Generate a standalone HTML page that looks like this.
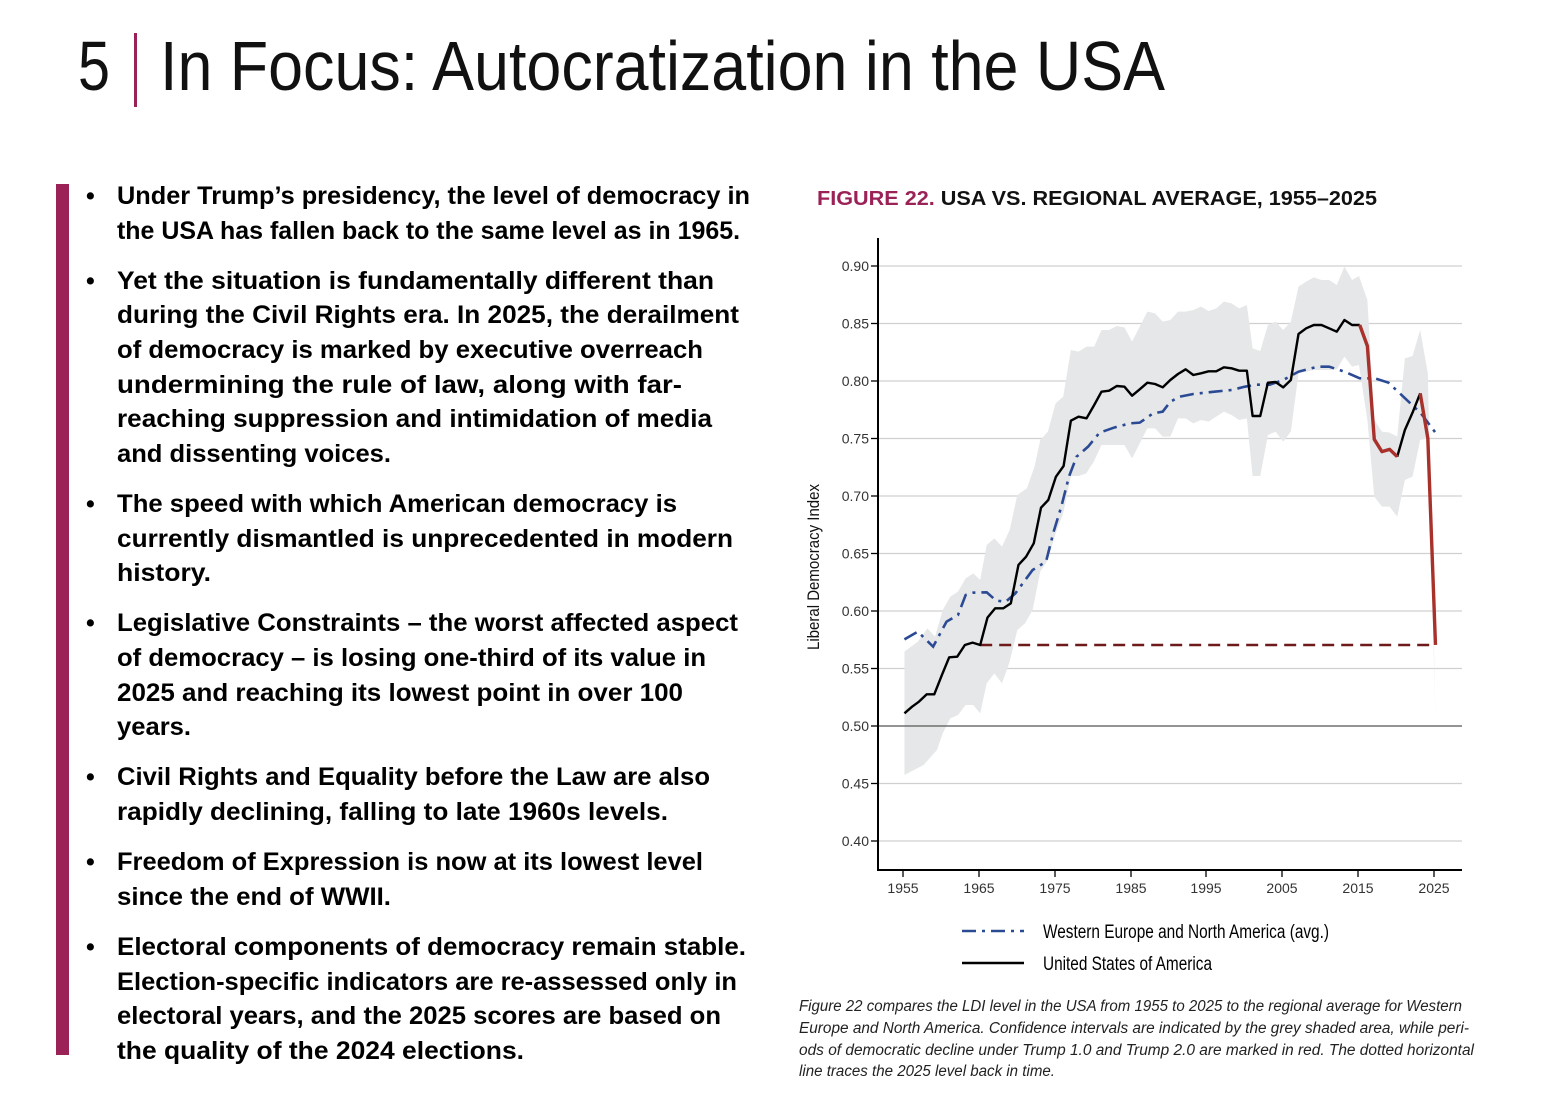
<!DOCTYPE html>
<html><head><meta charset="utf-8"><style>
html,body{margin:0;padding:0;background:#fff;}
svg{display:block}
</style></head><body>
<svg width="1566" height="1098" viewBox="0 0 1566 1098" xmlns="http://www.w3.org/2000/svg">
<text x="78" y="90" font-family="Liberation Sans, sans-serif" font-size="70" fill="#111" textLength="32" lengthAdjust="spacingAndGlyphs">5</text>
<rect x="134" y="33" width="3" height="74" fill="#9b2257"/>
<text x="160" y="90" font-family="Liberation Sans, sans-serif" font-size="70" fill="#111" textLength="1005" lengthAdjust="spacingAndGlyphs">In Focus: Autocratization in the USA</text>

<rect x="56" y="184" width="13" height="871" fill="#9b2257"/>

<g font-family="Liberation Sans, sans-serif" font-size="25" font-weight="bold" fill="#000">
<text x="86" y="204">•</text>
<text x="117" y="204" textLength="633" lengthAdjust="spacingAndGlyphs">Under Trump’s presidency, the level of democracy in</text>
<text x="117" y="239" textLength="623" lengthAdjust="spacingAndGlyphs">the USA has fallen back to the same level as in 1965.</text>
<text x="86" y="289">•</text>
<text x="117" y="289" textLength="597" lengthAdjust="spacingAndGlyphs">Yet the situation is fundamentally different than</text>
<text x="117" y="323" textLength="622" lengthAdjust="spacingAndGlyphs">during the Civil Rights era. In 2025, the derailment</text>
<text x="117" y="358" textLength="586" lengthAdjust="spacingAndGlyphs">of democracy is marked by executive overreach</text>
<text x="117" y="393" textLength="565" lengthAdjust="spacingAndGlyphs">undermining the rule of law, along with far-</text>
<text x="117" y="427" textLength="595" lengthAdjust="spacingAndGlyphs">reaching suppression and intimidation of media</text>
<text x="117" y="462" textLength="274" lengthAdjust="spacingAndGlyphs">and dissenting voices.</text>
<text x="86" y="512">•</text>
<text x="117" y="512" textLength="560" lengthAdjust="spacingAndGlyphs">The speed with which American democracy is</text>
<text x="117" y="547" textLength="616" lengthAdjust="spacingAndGlyphs">currently dismantled is unprecedented in modern</text>
<text x="117" y="581" textLength="94" lengthAdjust="spacingAndGlyphs">history.</text>
<text x="86" y="631">•</text>
<text x="117" y="631" textLength="621" lengthAdjust="spacingAndGlyphs">Legislative Constraints – the worst affected aspect</text>
<text x="117" y="666" textLength="589" lengthAdjust="spacingAndGlyphs">of democracy – is losing one-third of its value in</text>
<text x="117" y="701" textLength="566" lengthAdjust="spacingAndGlyphs">2025 and reaching its lowest point in over 100</text>
<text x="117" y="735" textLength="74" lengthAdjust="spacingAndGlyphs">years.</text>
<text x="86" y="785">•</text>
<text x="117" y="785" textLength="593" lengthAdjust="spacingAndGlyphs">Civil Rights and Equality before the Law are also</text>
<text x="117" y="820" textLength="551" lengthAdjust="spacingAndGlyphs">rapidly declining, falling to late 1960s levels.</text>
<text x="86" y="870">•</text>
<text x="117" y="870" textLength="586" lengthAdjust="spacingAndGlyphs">Freedom of Expression is now at its lowest level</text>
<text x="117" y="905" textLength="274" lengthAdjust="spacingAndGlyphs">since the end of WWII.</text>
<text x="86" y="955">•</text>
<text x="117" y="955" textLength="629" lengthAdjust="spacingAndGlyphs">Electoral components of democracy remain stable.</text>
<text x="117" y="990" textLength="620" lengthAdjust="spacingAndGlyphs">Election-specific indicators are re-assessed only in</text>
<text x="117" y="1024" textLength="604" lengthAdjust="spacingAndGlyphs">electoral years, and the 2025 scores are based on</text>
<text x="117" y="1059" textLength="407" lengthAdjust="spacingAndGlyphs">the quality of the 2024 elections.</text>
</g>

<text x="817" y="205" font-family="Liberation Sans, sans-serif" font-size="20" font-weight="bold" textLength="560" lengthAdjust="spacingAndGlyphs"><tspan fill="#9b2257">FIGURE 22.</tspan><tspan fill="#111"> USA VS. REGIONAL AVERAGE, 1955–2025</tspan></text>

<g stroke="#d0d0d0" stroke-width="1.3">
<line x1="878" y1="266" x2="1462" y2="266"/>
<line x1="878" y1="323.5" x2="1462" y2="323.5"/>
<line x1="878" y1="381" x2="1462" y2="381"/>
<line x1="878" y1="438.5" x2="1462" y2="438.5"/>
<line x1="878" y1="496" x2="1462" y2="496"/>
<line x1="878" y1="553.5" x2="1462" y2="553.5"/>
<line x1="878" y1="611" x2="1462" y2="611"/>
<line x1="878" y1="668.5" x2="1462" y2="668.5"/>
<line x1="878" y1="783.5" x2="1462" y2="783.5"/>
<line x1="878" y1="841" x2="1462" y2="841"/>
</g>

<g transform="translate(870,250) scale(0.3826,0.33333)">
<polygon fill="#e6e7e8" points="90,1205 125,1175 150,1135 170,1160 190,1080 210,1040 230,1025 250,985 270,970 288,990 305,885 325,865 345,890 365,840 385,735 410,715 430,650 445,570 465,545 485,460 505,440 525,300 545,305 566,290 586,290 605,240 625,240 645,228 665,232 685,275 705,230 725,185 745,190 765,215 785,210 805,185 825,185 845,180 865,170 885,183 905,175 925,155 945,160 965,175 985,165 1000,295 1020,303 1040,225 1060,215 1080,240 1100,215 1120,110 1140,95 1160,82 1180,90 1200,90 1220,105 1240,50 1260,90 1278,78 1300,150 1318,510 1338,545 1358,548 1378,560 1398,325 1418,318 1438,240 1458,370 1478,1400 1458,565 1438,570 1418,680 1398,690 1378,800 1358,770 1338,770 1318,740 1300,510 1278,345 1260,350 1240,320 1220,358 1200,360 1180,360 1160,360 1140,365 1120,370 1100,545 1080,575 1060,545 1040,555 1020,678 1000,678 985,505 965,510 945,495 925,485 905,500 885,515 865,510 845,520 825,505 805,505 785,560 765,560 745,535 725,535 705,580 685,625 665,585 645,585 625,585 605,585 585,635 565,670 545,678 525,678 505,790 485,850 465,930 445,965 425,1080 405,1120 385,1140 365,1235 345,1300 325,1270 305,1300 288,1390 270,1365 250,1365 230,1395 210,1405 190,1450 175,1500 140,1545 90,1575"/>
</g>

<line x1="878" y1="726" x2="1462" y2="726" stroke="#555" stroke-width="1.3"/>

<g transform="translate(870,250) scale(0.3826,0.33333)" fill="none">
<polyline vector-effect="non-scaling-stroke" stroke="#2b4a94" stroke-width="2.6" stroke-dasharray="14,6,3,6" points="90,1168 125,1145 165,1190 200,1115 230,1095 250,1035 270,1028 305,1027 330,1052 355,1055 380,1030 425,960 460,935 480,845 500,770 520,680 540,620 570,590 600,548 640,532 680,520 705,518 740,490 765,485 785,455 810,440 845,432 900,425 945,420 980,410 1010,404 1045,404 1080,390 1120,365 1170,350 1200,350 1240,365 1280,385 1320,385 1355,398 1380,425 1440,490 1478,548"/>
<polyline vector-effect="non-scaling-stroke" stroke="#6e1a1a" stroke-width="2.6" stroke-dasharray="12,7" points="288,1185 1478,1185"/>
<polyline vector-effect="non-scaling-stroke" stroke="#000" stroke-width="2.4" stroke-linejoin="round" points="90,1390 110,1370 128,1355 148,1333 168,1333 188,1275 207,1222 228,1220 248,1185 268,1178 288,1185 307,1103 327,1075 348,1075 368,1060 388,945 408,920 428,880 447,773 466,750 486,680 506,648 525,512 545,500 566,505 586,465 605,425 625,422 645,408 665,410 685,437 705,418 725,398 745,402 765,412 785,390 805,372 825,358 845,375 865,370 885,364 905,364 925,352 945,355 965,362 985,362 1000,498 1020,498 1040,398 1060,396 1080,412 1100,390 1120,252 1140,235 1160,225 1180,225 1200,235 1220,245 1240,210 1260,225 1280,225"/>
<polyline vector-effect="non-scaling-stroke" stroke="#000" stroke-width="2.4" stroke-linejoin="round" points="1378,620 1398,540 1418,488 1438,430"/>
<polyline vector-effect="non-scaling-stroke" stroke="#a8312b" stroke-width="3.4" stroke-linejoin="round" points="1280,225 1300,288 1318,568 1338,605 1358,598 1378,620"/>
<polyline vector-effect="non-scaling-stroke" stroke="#a8312b" stroke-width="3.4" stroke-linejoin="round" points="1438,430 1458,565 1478,1185"/>
</g>

<line x1="878" y1="238" x2="878" y2="871" stroke="#000" stroke-width="2"/>
<line x1="877" y1="870" x2="1462" y2="870" stroke="#000" stroke-width="2"/>
<g stroke="#000" stroke-width="1.3">
<line x1="871" y1="266" x2="878" y2="266"/><line x1="871" y1="323.5" x2="878" y2="323.5"/>
<line x1="871" y1="381" x2="878" y2="381"/><line x1="871" y1="438.5" x2="878" y2="438.5"/>
<line x1="871" y1="496" x2="878" y2="496"/><line x1="871" y1="553.5" x2="878" y2="553.5"/>
<line x1="871" y1="611" x2="878" y2="611"/><line x1="871" y1="668.5" x2="878" y2="668.5"/>
<line x1="871" y1="726" x2="878" y2="726"/><line x1="871" y1="783.5" x2="878" y2="783.5"/>
<line x1="871" y1="841" x2="878" y2="841"/>
<line x1="903" y1="870" x2="903" y2="877"/><line x1="979" y1="870" x2="979" y2="877"/>
<line x1="1055" y1="870" x2="1055" y2="877"/><line x1="1131" y1="870" x2="1131" y2="877"/>
<line x1="1206" y1="870" x2="1206" y2="877"/><line x1="1282" y1="870" x2="1282" y2="877"/>
<line x1="1358" y1="870" x2="1358" y2="877"/><line x1="1434" y1="870" x2="1434" y2="877"/>
</g>
<g font-family="Liberation Sans Narrow, Liberation Sans, sans-serif" font-size="14" fill="#333" text-anchor="end">
<text x="869" y="271">0.90</text><text x="869" y="328.5">0.85</text><text x="869" y="386">0.80</text>
<text x="869" y="443.5">0.75</text><text x="869" y="501">0.70</text><text x="869" y="558.5">0.65</text>
<text x="869" y="616">0.60</text><text x="869" y="673.5">0.55</text><text x="869" y="731">0.50</text>
<text x="869" y="788.5">0.45</text><text x="869" y="846">0.40</text>
</g>
<g font-family="Liberation Sans Narrow, Liberation Sans, sans-serif" font-size="14" fill="#333" text-anchor="middle">
<text x="903" y="893">1955</text><text x="979" y="893">1965</text><text x="1055" y="893">1975</text>
<text x="1131" y="893">1985</text><text x="1206" y="893">1995</text><text x="1282" y="893">2005</text>
<text x="1358" y="893">2015</text><text x="1434" y="893">2025</text>
</g>
<text transform="translate(819,567) rotate(-90)" text-anchor="middle" font-family="Liberation Sans Narrow, Liberation Sans, sans-serif" font-size="17" fill="#111" textLength="166" lengthAdjust="spacingAndGlyphs">Liberal Democracy Index</text>

<line x1="962" y1="931" x2="1024" y2="931" stroke="#2b4a94" stroke-width="2.6" stroke-dasharray="14,6,3,6"/>
<line x1="962" y1="963" x2="1024" y2="963" stroke="#000" stroke-width="2.6"/>
<text x="1043" y="938" font-family="Liberation Sans Narrow, Liberation Sans, sans-serif" font-size="19" fill="#000" textLength="286" lengthAdjust="spacingAndGlyphs">Western Europe and North America (avg.)</text>
<text x="1043" y="970" font-family="Liberation Sans Narrow, Liberation Sans, sans-serif" font-size="19" fill="#000" textLength="169" lengthAdjust="spacingAndGlyphs">United States of America</text>

<g font-family="Liberation Sans Narrow, Liberation Sans, sans-serif" font-size="15.5" font-style="italic" fill="#222">
<text x="799" y="1011" textLength="663" lengthAdjust="spacingAndGlyphs">Figure 22 compares the LDI level in the USA from 1955 to 2025 to the regional average for Western</text>
<text x="799" y="1033" textLength="670" lengthAdjust="spacingAndGlyphs">Europe and North America. Confidence intervals are indicated by the grey shaded area, while peri-</text>
<text x="799" y="1055" textLength="675" lengthAdjust="spacingAndGlyphs">ods of democratic decline under Trump 1.0 and Trump 2.0 are marked in red. The dotted horizontal</text>
<text x="799" y="1076" textLength="256" lengthAdjust="spacingAndGlyphs">line traces the 2025 level back in time.</text>
</g>
<text x="76" y="1114" font-family="Liberation Sans, sans-serif" font-size="22" fill="#aaa" textLength="620" lengthAdjust="spacingAndGlyphs">The rapid and broad deterioration in the USA led</text>
</svg>
</body></html>
